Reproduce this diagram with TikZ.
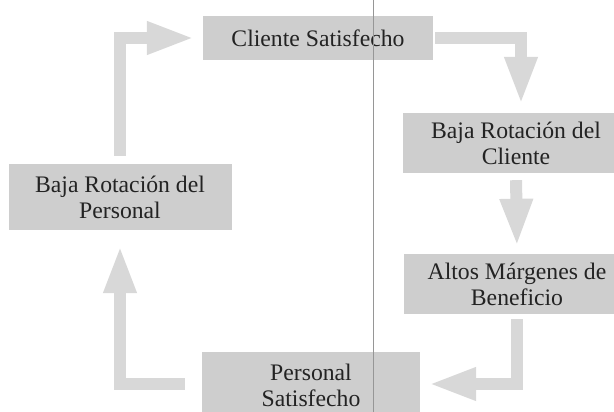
\documentclass[tikz,border=0pt]{standalone}
\usepackage{fontspec}
\setmainfont{Liberation Serif}
\usetikzlibrary{arrows.meta}
\definecolor{boxgray}{RGB}{206,206,206}
\definecolor{arrowgray}{RGB}{216,216,216}
\definecolor{txt}{RGB}{35,35,35}
\definecolor{foldline}{RGB}{150,150,150}
\begin{document}
\begin{tikzpicture}[x=1pt,y=-1pt,
  box/.style={fill=boxgray, inner sep=0pt, align=center, text=txt,
    font=\fontsize{23.7}{26}\selectfont},
  blk/.style={arrowgray, line width=12pt, line join=miter,
    -{Triangle[width=30pt,length=48pt]}},
]
\useasboundingbox (0,0) rectangle (614,412);
\clip (0,0) rectangle (614,412);
\fill[white] (0,0) rectangle (614,412);

\node[box, minimum width=230pt, minimum height=44pt] (top) at (318,38) {Cliente Satisfecho};
\node[box, minimum width=227pt, minimum height=60pt] (r1) at (516,143) {Baja Rotación del\\Cliente};
\node[box, minimum width=223pt, minimum height=66pt] (left) at (120,197) {Baja Rotación del\\Personal};
\node[box, minimum width=227pt, minimum height=60pt] (r2) at (517,284) {Altos Márgenes de\\Beneficio};
\node[box, minimum width=218pt, minimum height=66pt] (bot) at (311,385) {Personal\\Satisfecho};

\draw[blk, shorten <=8pt, shorten >=8pt] (left.north) |- (top.west);
\draw[blk, shorten <=2pt, shorten >=8pt] (top.east) -| ([xshift=5pt]r1.north);
\draw[blk, shorten <=7pt, shorten >=7pt] (r1.south) -- (r2.north);
\draw[blk, shorten <=5pt, shorten >=8pt] (r2.south) |- ([yshift=1pt]bot.east);
\draw[blk, shorten <=17pt, shorten >=15pt] ([yshift=1pt]bot.west) -| (left.south);

\coordinate (foldtop) at (373,0);
\coordinate (foldbot) at (373,412);
\draw[foldline, line width=0.7pt] (foldtop) -- (foldbot);
\end{tikzpicture}
\end{document}
